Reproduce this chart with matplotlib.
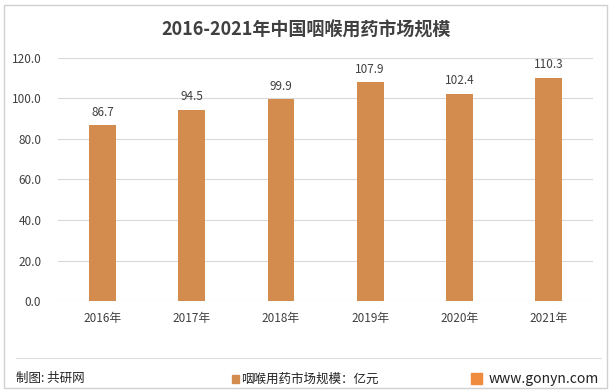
import matplotlib
matplotlib.use('Agg')
import matplotlib.pyplot as plt
from matplotlib.patches import Rectangle
from matplotlib.lines import Line2D

plt.rcParams['font.family'] = ['Noto Sans CJK SC', 'DejaVu Sans']

years = ['2016年', '2017年', '2018年', '2019年', '2020年', '2021年']
values = [86.7, 94.5, 99.9, 107.9, 102.4, 110.3]
yticks = [0, 20, 40, 60, 80, 100, 120]

bar_color = '#D48C4E'
text_color = '#404040'

fig = plt.figure(figsize=(6.13, 3.91), dpi=100)
ax = fig.add_axes([0.0946, 0.230, 0.873, 0.622])

x = range(len(years))
ax.bar(x, values, width=0.3, color=bar_color, zorder=3)
for xi, v in zip(x, values):
    ax.text(xi, v + 3, f'{v:.1f}', ha='center', va='bottom', fontsize=8.5,
            color=text_color)

ax.set_xlim(-0.5, len(years) - 0.5)
ax.set_ylim(0, 120)
ax.set_yticks(yticks)
ax.set_yticklabels([f'{t:.1f}' for t in yticks], fontsize=8.5, color=text_color)
ax.set_xticks(list(x))
ax.set_xticklabels(years, fontsize=8.5, color=text_color)
ax.tick_params(length=0, pad=8)
ax.tick_params(axis='y', pad=12)
ax.grid(axis='y', color='#D9D9D9', linewidth=0.8, zorder=0)
for s in ax.spines.values():
    s.set_visible(False)

fig.text(0.5, 0.923, '2016-2021年中国咽喉用药市场规模', ha='center', va='center',
         fontsize=13, fontweight='bold', color=text_color)

# outer frame and footer
fig.patches.append(Rectangle((0.007, 0.008), 0.984, 0.98, transform=fig.transFigure,
                             fill=False, edgecolor='#D0D0D0', linewidth=1))
fig.lines.append(Line2D([0.026, 0.981], [0.084, 0.084], transform=fig.transFigure,
                        color='#DDDDDD', linewidth=0.8))
fig.text(0.026, 0.031, '制图: 共研网', fontsize=9, color='#222222', va='center')
fig.patches.append(Rectangle((0.379, 0.021), 0.011, 0.02, transform=fig.transFigure,
                             color=bar_color))
fig.text(0.394, 0.031, '咽喉用药市场规模：亿元', fontsize=9, color='#222222',
         va='center')
fig.patches.append(Rectangle((0.768, 0.019), 0.018, 0.026, transform=fig.transFigure,
                             color='#F08A3C'))
fig.text(0.797, 0.031, 'www.gonyn.com', fontsize=10, color='#222222', va='center')

fig.savefig('out.png', dpi=100)
